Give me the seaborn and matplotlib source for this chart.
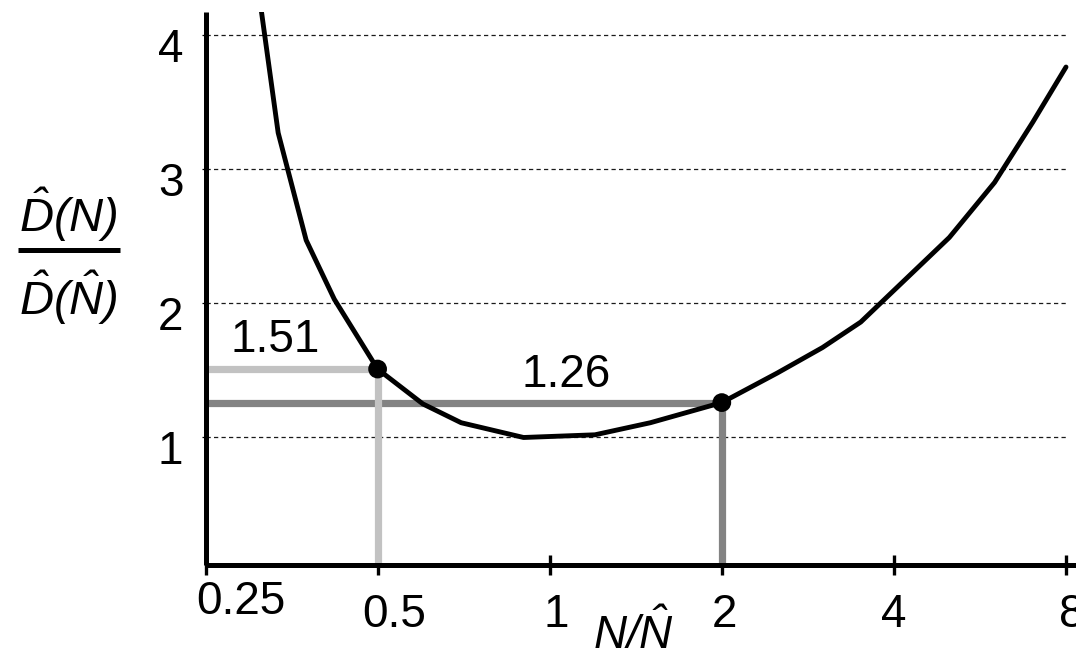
import matplotlib
matplotlib.use("Agg")
import matplotlib.pyplot as plt
import matplotlib.transforms as mtransforms
from matplotlib.lines import Line2D
import seaborn as sns

# ---- data ----
curve_x = [0.30, 0.335, 0.375, 0.42, 0.5, 0.6, 0.7, 0.9, 1.2, 1.5, 2.0, 2.5, 3.0, 3.5, 5.0, 6.0, 7.0, 8.0]
curve_y = [4.75, 3.27, 2.47, 2.03, 1.51, 1.25, 1.11, 1.00, 1.02, 1.11, 1.26, 1.48, 1.67, 1.86, 2.49, 2.90, 3.35, 3.76]
mark_x = [0.5, 2.0]
mark_y = [1.51, 1.26]
mark_labels = ["1.51", "1.26"]
mark_colors = ["#c2c2c2", "#838383"]
x_ticks = [0.25, 0.5, 1, 2, 4, 8]
x_tick_labels = ["0.25", "0.5", "1", "2", "4", "8"]
y_ticks = [1, 2, 3, 4]
y_tick_labels = ["1", "2", "3", "4"]
grid_y = [1, 2, 3, 4]

sns.set_theme(style="white")
plt.rcParams["font.family"] = ["Liberation Sans", "DejaVu Sans"]
plt.rcParams["mathtext.fontset"] = "custom"
plt.rcParams["mathtext.it"] = "Liberation Sans:italic"
plt.rcParams["mathtext.rm"] = "Liberation Sans:italic"
plt.rcParams["mathtext.cal"] = "Liberation Sans:italic"
for k in ["text.color", "axes.labelcolor", "xtick.color", "ytick.color", "axes.edgecolor"]:
    plt.rcParams[k] = "black"

W, H = 1076, 653
fig = plt.figure(figsize=(W / 100, H / 100), dpi=100)
fig.patch.set_facecolor("white")
ax = fig.add_axes([205.5 / W, 1 - 565 / H, (W - 205.5) / W, (565 - 12) / H])
ax.set_facecolor("white")
ax.set_xscale("log", base=2)
ax.set_xlim(0.25, 8 * 2 ** (10 / 172.2))
ax.set_ylim(0.05, 4.17)

# dashed reference lines
ax.hlines(grid_y, 0.25, 8, colors="#1a1a1a", linestyles=(0, (3.4, 2.6)), lw=0.9, zorder=1)

# guide lines to the marked points (dark first, light on top)
for i in [1, 0]:
    ax.hlines(mark_y[i], 0.25, mark_x[i], colors=mark_colors[i], lw=5.2, zorder=2)
    ax.vlines(mark_x[i], 0.0, mark_y[i], colors=mark_colors[i], lw=5.2, zorder=2)

sns.lineplot(x=curve_x, y=curve_y, sort=False, estimator=None, color="black",
             lw=3.5, ax=ax, zorder=3)
sns.scatterplot(x=mark_x, y=mark_y, s=13.5 ** 2, color="black", edgecolor="none",
                zorder=5, ax=ax, clip_on=False)

# value annotations
ax.text(0.3313, 1.64, mark_labels[0], fontsize=33, ha="center", va="baseline",
        color="black", zorder=6)
ax.text(1.069, 1.375, mark_labels[1], fontsize=33, ha="center", va="baseline",
        color="black", zorder=6)

# axes / ticks
for s in ["top", "right"]:
    ax.spines[s].set_visible(False)
for s in ["left", "bottom"]:
    ax.spines[s].set_linewidth(3.6)
    ax.spines[s].set_color("black")
    ax.spines[s].set_capstyle("butt")

ax.set_xticks(x_ticks)
ax.set_xticklabels(x_tick_labels)
ax.minorticks_off()
ax.set_yticks(y_ticks)
ax.set_yticklabels(y_tick_labels)
ax.tick_params(axis="x", direction="inout", length=15, width=2.4, color="black",
               labelcolor="black", labelsize=33, pad=13, bottom=True)
ax.tick_params(axis="y", direction="out", length=3, width=0.9, color="black",
               labelcolor="black", labelsize=33, pad=13, left=True)
ax.grid(False)

# per-label offsets (px) observed in reference
x_off = [(35, 13), (17, 0), (7, 0), (3, 0), (0, 0), (6, 0)]
for lab, (dx, dy) in zip(ax.get_xticklabels(), x_off):
    lab.set_transform(lab.get_transform() +
                      mtransforms.ScaledTranslation(dx / 100, dy / 100, fig.dpi_scale_trans))
for lab in ax.get_yticklabels():
    lab.set_transform(lab.get_transform() +
                      mtransforms.ScaledTranslation(0, -10 / 100, fig.dpi_scale_trans))

# axis titles
fig.text(634 / W, 4 / H, r"$N/\hat{N}$", fontsize=33, ha="center", va="baseline", color="black")
fig.text(68 / W, 1 - 232 / H, r"$\hat{D}(N)$", fontsize=34, ha="center", va="baseline", color="black")
fig.text(68 / W, 1 - 315 / H, r"$\hat{D}(\hat{N})$", fontsize=34, ha="center", va="baseline", color="black")
fig.add_artist(Line2D([18 / W, 120 / W], [1 - 250 / H, 1 - 250 / H], color="black",
                      lw=3.6, transform=fig.transFigure, solid_capstyle="butt"))

fig.savefig("out.png", dpi=100, facecolor="white")
